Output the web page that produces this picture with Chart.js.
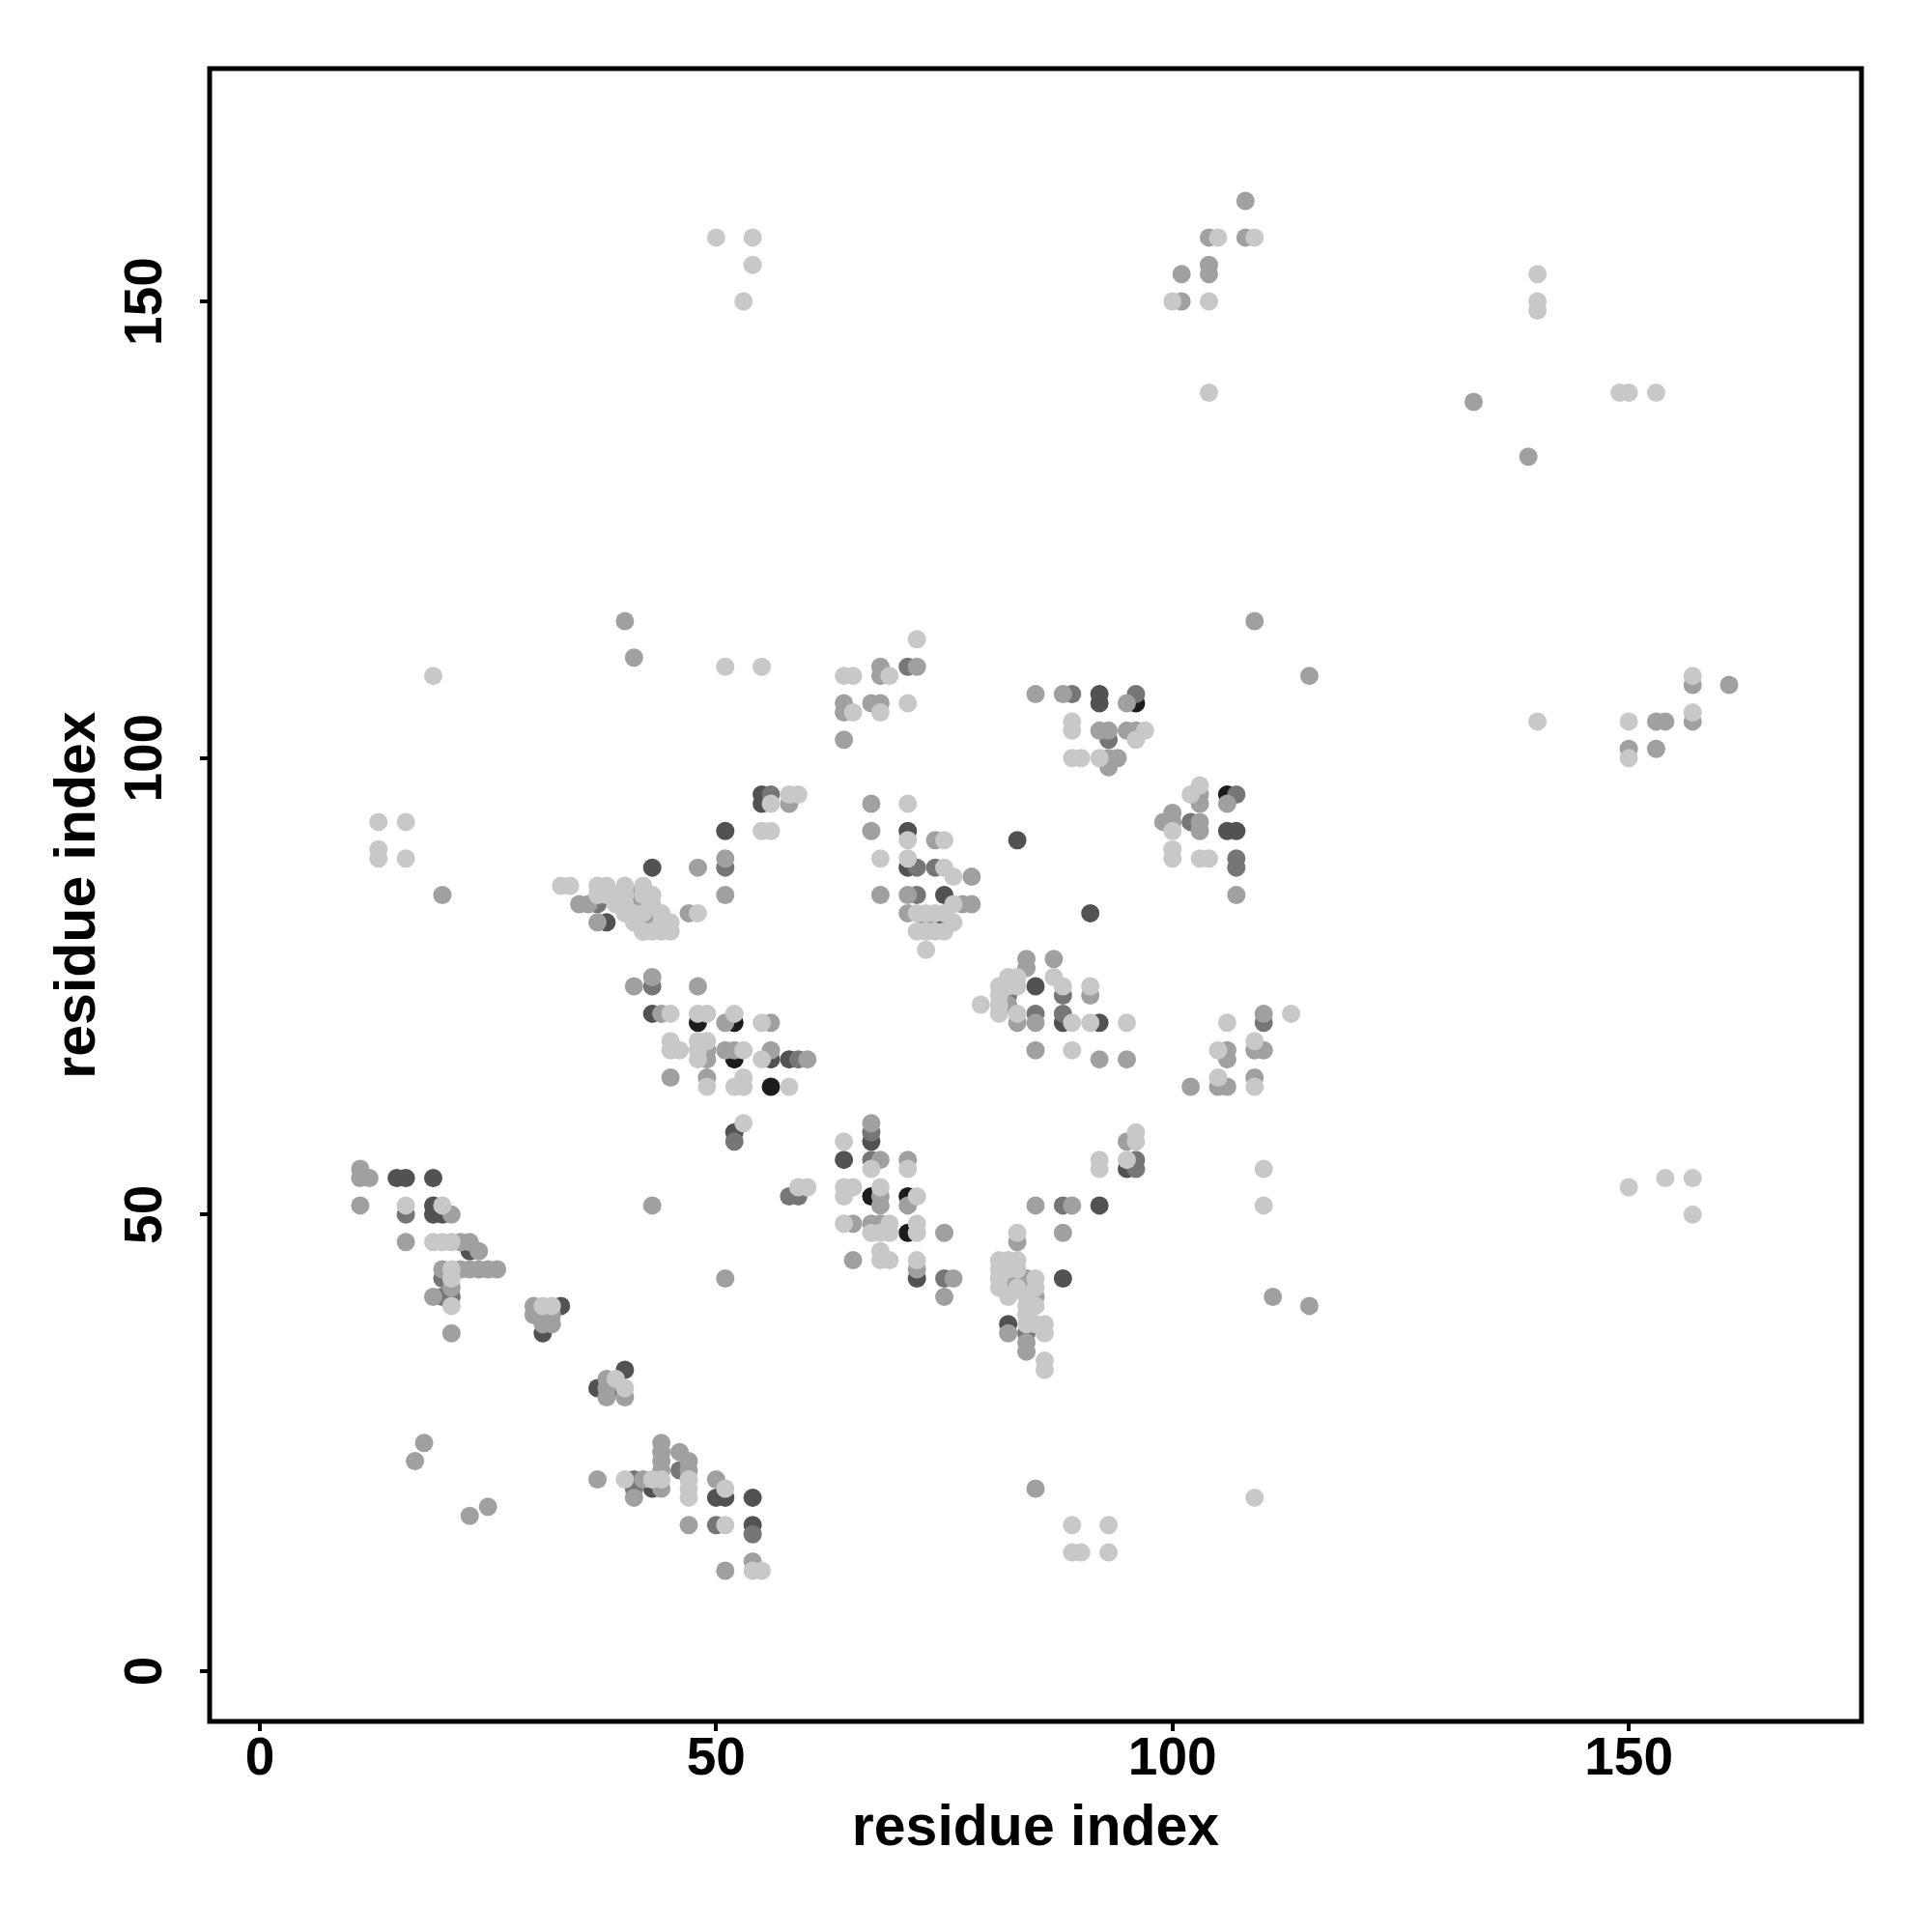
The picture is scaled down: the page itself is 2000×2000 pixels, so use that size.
<!DOCTYPE html>
<html>
<head>
<meta charset="utf-8">
<title>residue contacts</title>
<script src="https://cdn.jsdelivr.net/npm/chart.js"></script>
<style>
  body { margin: 0; background: #fff; }
  canvas { display: block; }
</style>
</head>
<body>
<canvas id="myChart" width="2000" height="2000"></canvas>
<script>
// contact pairs [residue i, residue j], grouped by grey level
const lightPts = [
  [50,157],[54,157],[54,154],[53,150],[105,157],[109,157],[100,150],[104,150],[104,140],[140,153],[140,150],[140,149],[149,140],[150,140],[153,140],
  [19,109],[51,110],[55,110],[72,113],[64,109],[65,109],[69,109],[65,105],[68,105],[71,106],
  [89,104],[89,103],[97,103],[96,102],[89,100],[90,100],[92,100],
  [140,104],[157,109],[150,104],[157,105],[150,100],
  [13,93],[16,93],[13,90],[13,89],[16,89],
  [33,86],[34,86],[37,86],[38,86],[37,85],[38,85],[39,84],[40,85],[42,85],[43,85],[40,84],[43,84],[41,82],[44,83],[44,82],[45,82],[45,81],[42,81],[43,81],[44,81],[42,83],[40,83],[41,83],[39,85],[40,86],[42,86],[48,83],
  [58,96],[59,96],[56,95],[56,92],[55,92],
  [71,95],[71,91],[75,91],[68,89],[71,89],[75,88],[76,87],[76,84],[72,83],[74,83],[75,83],[76,82],[72,81],[73,81],[75,81],[73,79],[73,83],[74,81],
  [103,97],[102,96],[100,92],[100,90],[100,89],[103,89],[104,89],
  [45,72],[48,72],[49,72],[52,72],[55,71],[45,69],[45,68],[46,68],[48,69],[49,69],[48,68],[48,67],[53,68],[55,67],[49,64],[52,64],[53,65],[53,64],[58,64],[53,60],
  [82,76],[83,76],[81,75],[82,75],[83,75],[87,76],[88,75],[91,75],[79,73],[81,73],[81,72],[83,72],[89,71],[91,71],[95,71],[89,68],[81,74],
  [106,71],[113,72],[105,68],[109,69],[105,65],[109,64],
  [64,58],[67,55],[71,55],[59,53],[60,53],[64,53],[65,53],[64,52],[68,53],[72,52],
  [64,49],[69,49],[67,48],[68,48],[69,48],[72,49],[72,48],[68,46],[68,45],[69,45],[72,45],
  [96,59],[96,58],[92,56],[92,55],[95,56],[110,55],[110,51],
  [83,48],[81,45],[82,45],[81,44],[81,43],[81,42],[83,44],[85,43],[85,42],[84,41],[84,40],[85,40],[84,39],[85,38],[86,38],[86,37],[84,38],[86,34],[86,33],[82,41],[83,42],[82,44],[83,45],
  [16,51],[20,51],[19,47],[20,47],[21,47],[21,44],[21,43],[21,40],
  [31,40],[32,40],[39,32],[40,31],
  [40,21],[43,21],[44,21],[47,21],[47,20],[47,19],[51,20],[51,16],[54,11],[55,11],
  [89,16],[93,16],[89,13],[90,13],[93,13],[109,19],
  [150,53],[154,54],[157,54],[157,50]
];

const midPts = [
  [108,161],[104,157],[108,157],[104,154],[104,153],[101,153],[101,150],[133,139],[139,133],
  [40,115],[41,111],[109,115],[115,109],
  [68,110],[68,109],[72,110],[64,106],[64,105],[67,106],[68,106],[64,102],
  [85,107],[88,107],[95,106],[92,103],[93,103],[95,103],[96,103],[93,100],[94,100],[93,99],
  [157,108],[161,108],[153,104],[154,104],[157,104],[150,101],[153,101],
  [20,85],[48,88],[51,89],[51,85],[35,84],[36,84],[37,82],[41,85],[41,84],[42,84],[42,82],[42,81],[43,83],[47,83],
  [58,95],
  [67,95],[67,92],[74,91],[78,87],[68,85],[71,85],[77,84],[78,84],[71,83],[73,82],
  [103,96],[103,95],[106,95],[100,94],[99,93],[100,93],[103,93],[103,92],[107,85],
  [43,76],[41,75],[48,75],[44,72],[51,71],[56,71],[49,68],[49,67],[51,68],[52,68],[56,68],[60,67],[45,65],[49,65],
  [84,78],[84,77],[87,78],[91,74],[82,73],[83,71],[85,71],[85,68],[92,67],[95,67],
  [110,72],[106,68],[106,67],[109,68],[110,68],[102,64],[105,64],[106,64],[109,65],
  [67,60],[68,56],[71,56],[68,52],[68,51],[71,51],[65,49],[67,49],[68,49],[75,48],[65,45],[72,44],[76,43],[75,41],
  [95,58],
  [83,47],[85,51],[89,51],[88,48],[82,43],[82,42],[83,43],[84,43],[84,42],[85,41],[82,37],[84,36],[84,35],
  [43,51],[51,43],[111,41],[115,40],
  [11,55],[11,54],[12,54],[11,51],[21,50],[16,47],[22,47],[23,47],[24,46],[20,44],[22,44],[23,44],[24,44],[25,44],[26,44],[19,41],[21,42],[21,37],
  [30,40],[30,39],[32,39],[31,38],[32,38],
  [38,32],[40,30],[38,30],[38,31],
  [18,25],[17,23],[23,17],[25,18],
  [37,21],[41,19],[42,21],[44,20],[44,25],[44,24],[44,23],[44,22],[46,24],[47,23],[47,22],[50,21],[47,16],[51,11],[54,12],
  [85,20]
];

const darkPts = [
  [71,110],[89,107],[96,107],[93,102],
  [51,88],[37,84],[56,96],
  [72,88],[74,88],[72,85],
  [107,96],[102,93],[107,89],[107,88],
  [43,75],[59,67],[52,58],
  [88,74],[82,74],[85,72],[88,72],[110,71],
  [67,59],[67,56],[58,52],[59,52],[75,43],
  [96,56],[96,55],[88,51],[84,37],
  [16,50],[20,43],[20,41],[21,41],
  [31,39],[39,31],
  [41,21],[41,20],[46,22],[50,16],[54,15]
];

const darkerPts = [
  [92,107],[92,106],
  [43,88],[51,92],[38,82],[55,96],[55,95],
  [71,92],[71,88],[75,85],[74,82],[83,91],[91,83],
  [106,92],[107,92],
  [43,72],[56,67],[58,67],[52,59],
  [85,75],[88,71],[92,71],
  [67,58],[64,56],[72,43],[95,55],
  [92,51],[88,43],[82,38],
  [15,54],[16,54],[19,54],[19,51],[19,50],[20,50],[23,46],
  [33,40],[31,37],[37,31],[40,33],
  [43,20],[50,19],[51,19],[54,19],[54,16]
];

const blackPts = [
  [96,106],[106,96],[48,71],[52,71],[52,67],[56,64],[67,52],[71,52],[71,48]
];

const xTicks = [0, 50, 100, 150];
const yTicks = [0, 50, 100, 150];
const axisTitle = 'residue index';

const fontFamily = '"Liberation Sans", Arial, Helvetica, sans-serif';

function toXY(pts) {
  return pts.map(p => ({ x: p[0], y: p[1] }));
}

function makeSet(pts, colour, order) {
  return {
    data: toXY(pts),
    pointRadius: 9.5,
    pointBorderWidth: 0,
    pointBackgroundColor: colour,
    pointHoverRadius: 9.5,
    order: order
  };
}

// black frame round the plot area
const frame = {
  id: 'frame',
  afterDraw(chart) {
    const a = chart.chartArea;
    const c = chart.ctx;
    c.save();
    c.strokeStyle = '#000';
    c.lineWidth = 5;
    c.strokeRect(a.left, a.top, a.right - a.left, a.bottom - a.top);
    c.restore();
  }
};

const tickFont = { family: fontFamily, size: 55, weight: 'bold', lineHeight: 1 };
const titleFont = { family: fontFamily, size: 59, weight: 'bold', lineHeight: 1 };

var ctx = document.getElementById('myChart');

var myChart = new Chart(ctx, {
  type: 'scatter',
  data: {
    datasets: [
      makeSet(blackPts, '#1c1c1c', 4),
      makeSet(darkerPts, '#525252', 3),
      makeSet(darkPts, '#767676', 2),
      makeSet(midPts, '#a0a0a0', 1),
      makeSet(lightPts, '#c8c8c8', 0)
    ]
  },
  options: {
    responsive: false,
    animation: false,
    devicePixelRatio: 1,
    events: [],
    layout: { padding: { top: 71, right: 73, left: 0, bottom: 0 } },
    plugins: { legend: { display: false }, tooltip: { enabled: false } },
    scales: {
      x: {
        type: 'linear',
        position: 'bottom',
        min: -5.5,
        max: 175.5,
        afterBuildTicks: s => { s.ticks = xTicks.map(v => ({ value: v })); },
        afterFit: s => { s.height = 218; },
        grid: { drawOnChartArea: false, tickLength: 10, color: '#000', lineWidth: 4 },
        border: { display: false },
        ticks: { font: tickFont, color: '#000', padding: 2, maxRotation: 0, autoSkip: false },
        title: { display: true, text: axisTitle, font: titleFont, color: '#000', padding: { top: 0, bottom: 77 } }
      },
      y: {
        type: 'linear',
        position: 'left',
        min: -5.5,
        max: 175.5,
        afterBuildTicks: s => { s.ticks = yTicks.map(v => ({ value: v })); },
        afterFit: s => { s.width = 217; },
        grid: { drawOnChartArea: false, tickLength: 10, color: '#000', lineWidth: 4 },
        border: { display: false },
        ticks: { font: tickFont, color: '#000', padding: 9, minRotation: 90, maxRotation: 90, crossAlign: 'center', autoSkip: false },
        title: { display: true, text: axisTitle, font: titleFont, color: '#000', padding: { top: 52, bottom: 0 } }
      }
    }
  },
  plugins: [frame]
});
</script>
</body>
</html>
